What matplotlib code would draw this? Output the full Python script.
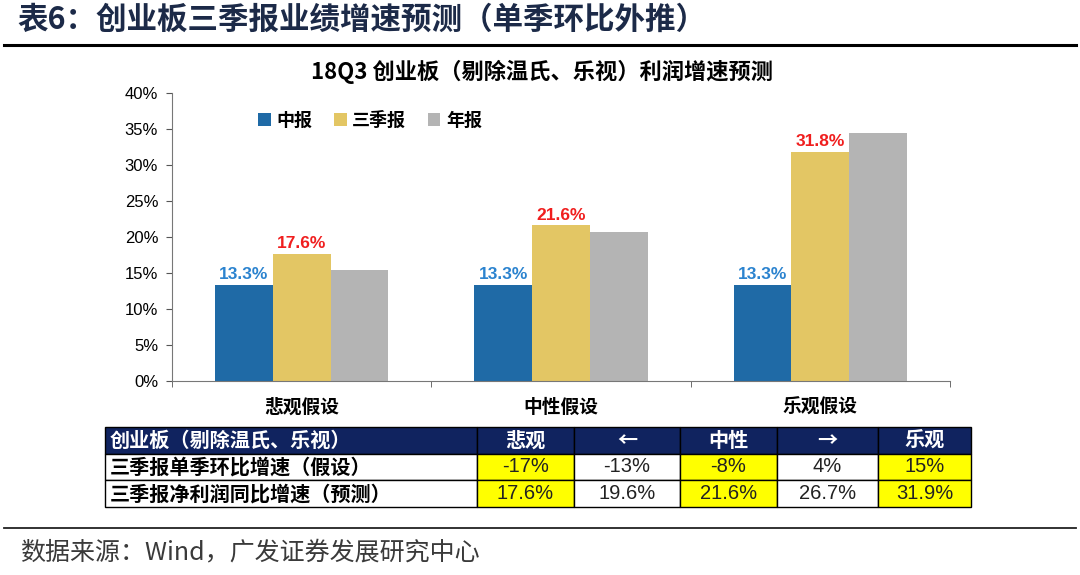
import matplotlib
matplotlib.use("Agg")
import matplotlib.pyplot as plt
import numpy as np
from matplotlib.lines import Line2D
from matplotlib.font_manager import FontProperties

plt.rcParams['font.family'] = ['Noto Sans CJK SC', 'DejaVu Sans']

# ---- data -------------------------------------------------------------
SCENARIOS = ["悲观假设", "中性假设", "乐观假设"]
SERIES = ["中报", "三季报", "年报"]
INTERIM = [0.133, 0.133, 0.133]
Q3 = [0.176, 0.216, 0.318]
ANNUAL = [0.154, 0.207, 0.344]

TABLE_HEADER = ["创业板（剔除温氏、乐视）", "悲观", "←", "中性", "→", "乐观"]
ROW_LABELS = ["三季报单季环比增速（假设）", "三季报净利润同比增速（预测）"]
QOQ_ASSUMED = ["-17%", "-13%", "-8%", "4%", "15%"]
YOY_FORECAST = ["17.6%", "19.6%", "21.6%", "26.7%", "31.9%"]

COLORS = ["#1f6aa6", "#e3c664", "#b4b4b4"]
NAVY = "#10235f"
NUM_FONT = ["Liberation Sans", "DejaVu Sans"]
CJK = ['Noto Sans CJK SC', 'DejaVu Sans']

fig = plt.figure(figsize=(10.8, 5.75), dpi=100)

# ---- page header / footer --------------------------------------------
fig.text(0.016, 0.965, "表6：创业板三季报业绩增速预测（单季环比外推）",
         fontsize=22, fontweight="bold", color="#1c2a48", va="center", ha="left")
fig.add_artist(Line2D([0.004, 0.996], [0.922, 0.922], color="black", lw=2.2))
fig.add_artist(Line2D([0.004, 0.996], [0.082, 0.082], color="#222222", lw=1.3))
fig.text(0.019, 0.040, "数据来源：Wind，广发证券发展研究中心",
         fontsize=18, color="#3a3a3a", va="center", ha="left")

# chart title is centred on the figure, not on the axes
fig.text(0.502, 0.875, "18Q3 创业板（剔除温氏、乐视）利润增速预测", fontsize=16,
         fontweight="bold", ha="center", va="center")

# ---- bar chart --------------------------------------------------------
ax = fig.add_axes([0.1593, 0.3374, 0.7204, 0.5009])
x = np.arange(len(SCENARIOS))
w = 0.223
for i, (vals, c, lab) in enumerate(zip([INTERIM, Q3, ANNUAL], COLORS, SERIES)):
    ax.bar(x + (i - 1) * w, vals, width=w, color=c, label=lab)

for xi, v in zip(x, INTERIM):
    ax.text(xi - w, v + 0.004, f"{v*100:.1f}%", ha="center", va="bottom",
            fontsize=12.5, fontweight="bold", color="#2b83cf", family=NUM_FONT)
for xi, v in zip(x, Q3):
    ax.text(xi, v + 0.004, f"{v*100:.1f}%", ha="center", va="bottom",
            fontsize=12.5, fontweight="bold", color="#f01e1e", family=NUM_FONT)

ax.set_xlim(-0.5, 2.5)
ax.set_ylim(0, 0.40)
yt = np.arange(0, 0.41, 0.05)
ax.set_yticks(yt)
ax.set_yticklabels([f"{int(round(t*100))}%" for t in yt], family=NUM_FONT, fontsize=12)
ax.set_xticks(x)
ax.set_xticklabels(SCENARIOS, fontsize=13.5, fontweight="bold")
ax.set_xticks([-0.5, 0.5, 1.5, 2.5], minor=True)
ax.tick_params(axis="x", which="major", length=0, pad=12)
ax.tick_params(axis="x", which="minor", length=4, color="#555555")
ax.tick_params(axis="y", length=4, color="#555555", pad=6)
for s in ("top", "right"):
    ax.spines[s].set_visible(False)
for s in ("left", "bottom"):
    ax.spines[s].set_color("#777777")

ax.legend(loc="center left", bbox_to_anchor=(0.09, 0.906), ncol=3, frameon=False,
          handlelength=0.7, handleheight=0.7, handletextpad=0.3, columnspacing=1.2,
          prop=dict(size=13, weight="bold"))

# ---- table ------------------------------------------------------------
tax = fig.add_axes([0.0972, 0.1183, 0.8019, 0.1391])
tax.axis("off")
cell_text = [[ROW_LABELS[0]] + QOQ_ASSUMED, [ROW_LABELS[1]] + YOY_FORECAST]
yellow = "#ffff00"
cell_colours = [["white", yellow, "white", yellow, "white", yellow] for _ in range(2)]
col_w = np.array([372, 97, 106, 97, 101, 93], dtype=float)
tbl = tax.table(cellText=cell_text, colLabels=TABLE_HEADER, cellColours=cell_colours,
                colColours=[NAVY] * 6, colWidths=list(col_w / col_w.sum()),
                cellLoc="center", bbox=[0, 0, 1, 1])
tbl.auto_set_font_size(False)
for (r, c), cell in tbl.get_celld().items():
    cell.set_edgecolor("black")
    cell.set_linewidth(1.0)
    t = cell.get_text()
    if r == 0:
        t.set_color("white")
        t.set_fontproperties(FontProperties(family=CJK, weight="bold", size=14.5))
    elif c == 0:
        t.set_fontproperties(FontProperties(family=CJK, weight="bold", size=14.5))
    else:
        t.set_fontproperties(FontProperties(family=NUM_FONT, size=14.5))
        t.set_color("#222222")
    if c == 0:
        cell.PAD = 0.012
        cell._loc = "left"
        t.set_ha("left")

fig.savefig("out.png", dpi=100)
